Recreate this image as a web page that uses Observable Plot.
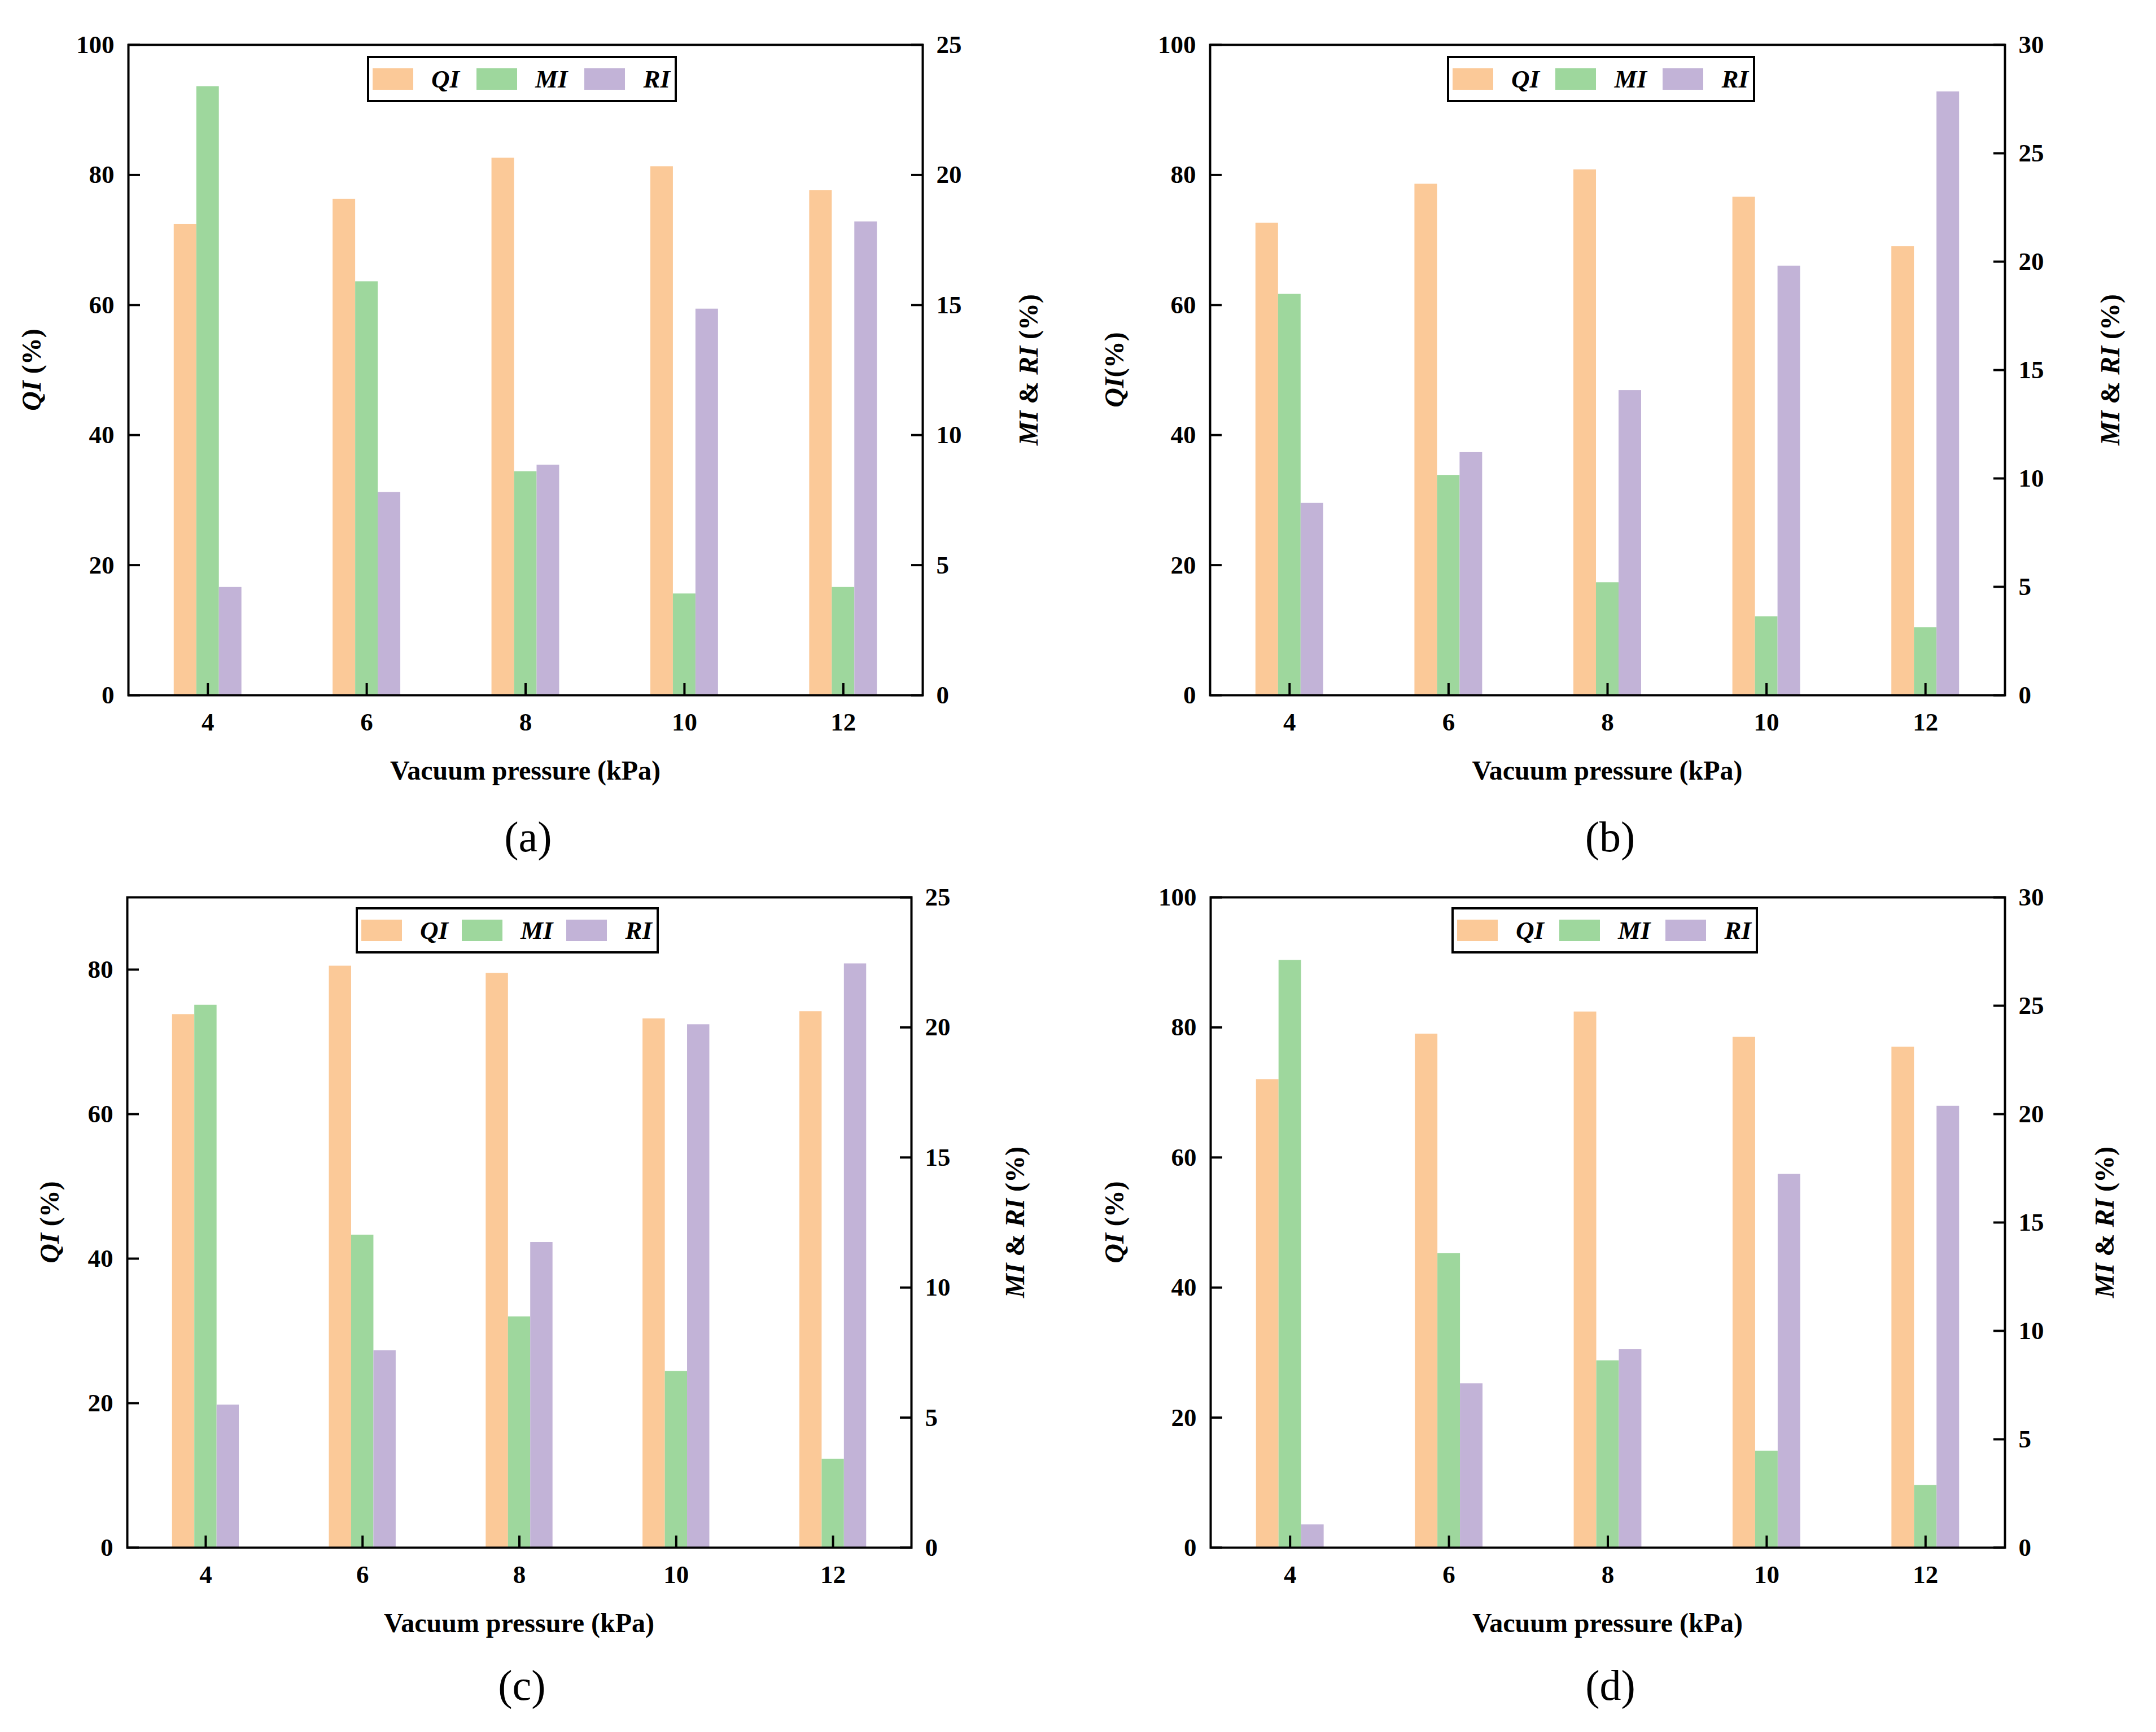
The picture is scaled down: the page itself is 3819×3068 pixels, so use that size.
<!DOCTYPE html>
<html>
<head>
<meta charset="utf-8">
<script src="https://cdn.jsdelivr.net/npm/d3@7"></script>
<script src="https://cdn.jsdelivr.net/npm/@observablehq/plot@0.6"></script>
<style>
  html, body { margin: 0; padding: 0; background: #fff; }
  #root { position: relative; width: 3819px; height: 3068px; background: #fff; font-family: "Liberation Serif", "Times New Roman", serif; }
  .panel { position: absolute; }
  .legend { position: absolute; box-sizing: border-box; border: 4px solid #000; background: #fff;
            display: flex; align-items: center; justify-content: space-between; padding: 0 8px 0 6px; }
  .entry { display: flex; align-items: center; }
  .sw { width: 72px; height: 38px; }
  .lab { margin-left: 32px; font-size: 45px; font-style: italic; font-weight: bold; line-height: 1; }
  .cap { position: absolute; width: 240px; text-align: center; font-size: 76px; line-height: 90px; }
</style>
</head>
<body>
<div id="root"></div>
<script>
// ---------- data ----------
const pressures = [4, 6, 8, 10, 12];
const seriesNames = ["QI", "MI", "RI"];
const seriesColors = ["#FBC998", "#9ED79D", "#C2B3D7"];

// (a)
const qiA = [72.4, 76.3, 82.6, 81.3, 77.6];
const miA = [23.4, 15.9, 8.6, 3.9, 4.15];
const riA = [4.15, 7.8, 8.85, 14.85, 18.2];
// (b)
const qiB = [72.6, 78.6, 80.8, 76.6, 69.0];
const miB = [18.5, 10.15, 5.2, 3.63, 3.12];
const riB = [8.86, 11.2, 14.06, 19.8, 27.84];
// (c)
const qiC = [73.8, 80.5, 79.5, 73.2, 74.2];
const miC = [20.86, 12.02, 8.88, 6.78, 3.41];
const riC = [5.49, 7.58, 11.74, 20.11, 22.45];
// (d)
const qiD = [72.0, 79.0, 82.4, 78.5, 77.0];
const miD = [27.1, 13.57, 8.63, 4.46, 2.88];
const riD = [1.06, 7.57, 9.14, 17.23, 20.37];

// tick labels
const leftTicks100 = [0, 20, 40, 60, 80, 100];
const leftTicks80 = [0, 20, 40, 60, 80];
const rightTicks25 = [0, 5, 10, 15, 20, 25];
const rightTicks30 = [0, 5, 10, 15, 20, 25, 30];

const xTitle = "Vacuum pressure (kPa)";
const captions = ["(a)", "(b)", "(c)", "(d)"];

// ---------- layout ----------
const panels = [
  { cap: captions[0], qi: qiA, mi: miA, ri: riA, leftMax: 100, rightMax: 25, leftTicks: leftTicks100, rightTicks: rightTicks25,
    left: 0, top: 0, w: 1909, h: 1440, ml: 227, mr: 275, mt: 79, mb: 209,
    lt: 55, rt: 1821, qiTitle: [["QI", true], [" (%)", false]],
    legend: { x: 650, y: 99, w: 549, h: 82 }, capY: 1482 },
  { cap: captions[1], qi: qiB, mi: miB, ri: riB, leftMax: 100, rightMax: 30, leftTicks: leftTicks100, rightTicks: rightTicks30,
    left: 1909, top: 0, w: 1910, h: 1440, ml: 234, mr: 268, mt: 79, mb: 209,
    lt: 64, rt: 1828, qiTitle: [["QI", true], ["(%)", false]],
    legend: { x: 2563, y: 99, w: 546, h: 82 }, capY: 1482 },
  { cap: captions[2], qi: qiC, mi: miC, ri: riC, leftMax: 90, rightMax: 25, leftTicks: leftTicks80, rightTicks: rightTicks25,
    left: 0, top: 1510, w: 1909, h: 1440, ml: 225, mr: 295, mt: 79, mb: 209,
    lt: 87, rt: 1797, qiTitle: [["QI", true], [" (%)", false]],
    legend: { x: 630, y: 1607, w: 537, h: 82 }, capY: 2985 },
  { cap: captions[3], qi: qiD, mi: miD, ri: riD, leftMax: 100, rightMax: 30, leftTicks: leftTicks100, rightTicks: rightTicks30,
    left: 1909, top: 1510, w: 1910, h: 1440, ml: 235, mr: 268, mt: 79, mb: 209,
    lt: 64, rt: 1818, qiTitle: [["QI", true], [" (%)", false]],
    legend: { x: 2571, y: 1607, w: 543, h: 82 }, capY: 2985 }
];

const root = document.getElementById("root");
const hw = 0.142; // half bar width in x units

function addRich(sel, parts) {
  parts.forEach(([t, it]) => sel.append("tspan").attr("font-style", it ? "italic" : "normal").text(t));
}

panels.forEach(cfg => {
  const k = cfg.leftMax / cfg.rightMax;
  const rows = [];
  pressures.forEach((p, i) => {
    rows.push({ p, s: "QI", v: cfg.qi[i], off: -1 });
    rows.push({ p, s: "MI", v: cfg.mi[i] * k, off: 0 });
    rows.push({ p, s: "RI", v: cfg.ri[i] * k, off: 1 });
  });

  const chart = Plot.plot({
    width: cfg.w, height: cfg.h,
    marginLeft: cfg.ml, marginRight: cfg.mr, marginTop: cfg.mt, marginBottom: cfg.mb,
    style: { fontFamily: "'Liberation Serif', 'Times New Roman', serif", fontSize: "45px", fontWeight: "bold", background: "transparent", color: "#000", overflow: "visible" },
    x: { domain: [3, 13] },
    y: { domain: [0, cfg.leftMax] },
    color: { domain: seriesNames, range: seriesColors },
    marks: [
      Plot.rectY(rows, { x1: d => d.p + d.off * 2 * hw - hw, x2: d => d.p + d.off * 2 * hw + hw, y1: 0, y2: "v", fill: "s" }),
      Plot.frame({ stroke: "#000", strokeWidth: 4 }),
      Plot.axisX(pressures, { anchor: "bottom", tickSize: -21, tickPadding: 52, strokeWidth: 4, label: null, tickFormat: d => String(d) }),
      Plot.axisY(cfg.leftTicks, { anchor: "left", tickSize: -21, tickPadding: 46, strokeWidth: 4, label: null, tickFormat: d => String(d) }),
      Plot.axisY(cfg.rightTicks.map(v => v * k), { anchor: "right", tickSize: -21, tickPadding: 45, strokeWidth: 4, label: null,
        tickFormat: d => String(Math.round(d / k)) })
    ]
  });

  const wrap = document.createElement("div");
  wrap.className = "panel";
  wrap.style.left = cfg.left + "px";
  wrap.style.top = cfg.top + "px";
  wrap.appendChild(chart);
  root.appendChild(wrap);

  const svg = d3.select(chart);
  const fx0 = cfg.ml, fx1 = cfg.w - cfg.mr, fy0 = cfg.mt, fy1 = cfg.h - cfg.mb;
  const cy = (fy0 + fy1) / 2, cx = (fx0 + fx1) / 2;

  // x title
  svg.append("text").attr("x", cx).attr("y", fy1 + 133)
    .attr("text-anchor", "middle").attr("dominant-baseline", "central")
    .attr("font-size", 48).attr("font-weight", "bold").attr("fill", "#000").text(xTitle);

  // left y title
  const lt = svg.append("text").attr("transform", `translate(${cfg.lt},${cy}) rotate(-90)`)
    .attr("text-anchor", "middle").attr("dominant-baseline", "central")
    .attr("font-size", 48).attr("font-weight", "bold").attr("fill", "#000").style("white-space", "pre");
  addRich(lt, cfg.qiTitle);

  // right y title
  const rt = svg.append("text").attr("transform", `translate(${cfg.rt},${cy}) rotate(-90)`)
    .attr("text-anchor", "middle").attr("dominant-baseline", "central")
    .attr("font-size", 48).attr("font-weight", "bold").attr("fill", "#000").style("white-space", "pre");
  addRich(rt, [["MI", true], [" & ", false], ["RI", true], [" (%)", false]]);

  // legend
  const lg = document.createElement("div");
  lg.className = "legend";
  lg.style.left = cfg.legend.x + "px";
  lg.style.top = cfg.legend.y + "px";
  lg.style.width = cfg.legend.w + "px";
  lg.style.height = cfg.legend.h + "px";
  seriesNames.forEach((n, i) => {
    const e = document.createElement("div");
    e.className = "entry";
    const sw = document.createElement("div");
    sw.className = "sw";
    sw.style.background = seriesColors[i];
    const lb = document.createElement("span");
    lb.className = "lab";
    lb.textContent = n;
    e.appendChild(sw); e.appendChild(lb);
    lg.appendChild(e);
  });
  root.appendChild(lg);

  // caption
  const cap = document.createElement("div");
  cap.className = "cap";
  cap.textContent = cfg.cap;
  cap.style.left = (cfg.left + cx + 5 - 120) + "px";
  cap.style.top = (cfg.capY - 45) + "px";
  root.appendChild(cap);
});
</script>
</body>
</html>
